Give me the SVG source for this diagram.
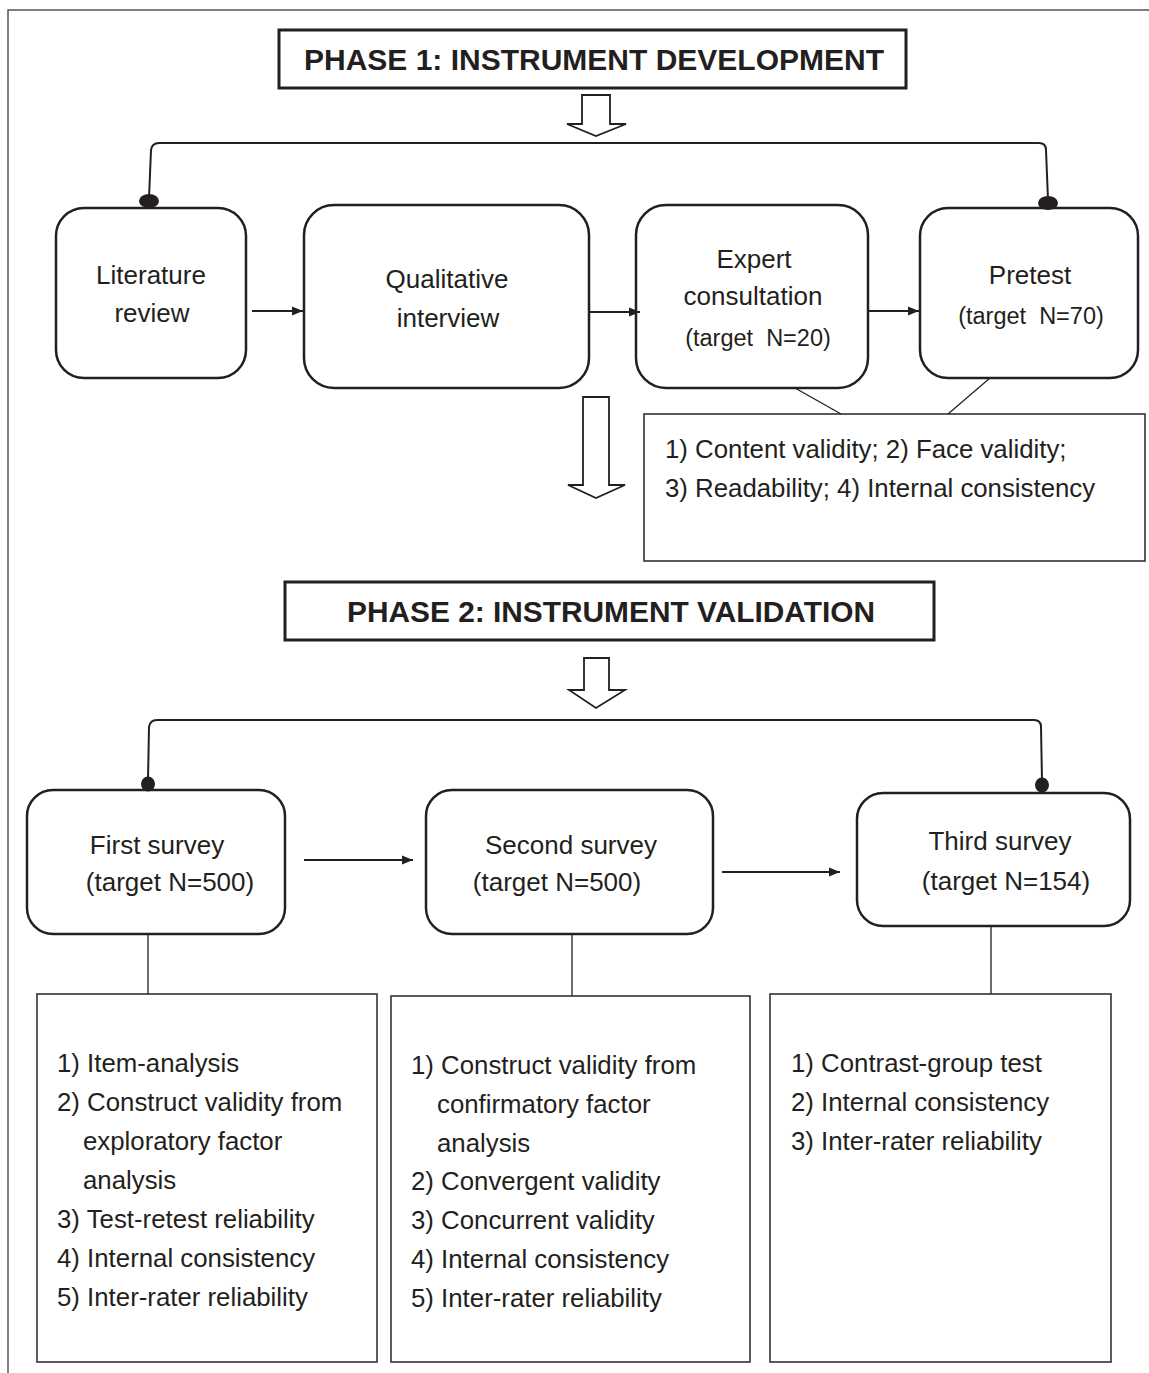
<svg xmlns="http://www.w3.org/2000/svg" width="1149" height="1373" viewBox="0 0 1149 1373">
<defs>
<style>
text{font-family:"Liberation Sans",Arial,sans-serif;fill:#231f20;}
.t{font-size:26px;text-anchor:middle;}
.n{font-size:23.5px;text-anchor:middle;white-space:pre;}
.l{font-size:25.8px;}
.h{font-size:29px;font-weight:bold;text-anchor:middle;}
.rb{fill:#fff;stroke:#231f20;stroke-width:2.5;}
.hb{fill:#fff;stroke:#231f20;stroke-width:3;}
.sb{fill:#fff;stroke:#333;stroke-width:1.6;}
.ln{fill:none;stroke:#231f20;stroke-width:2;}
.thin{fill:none;stroke:#231f20;stroke-width:1.3;}
.ha{fill:#fff;stroke:#231f20;stroke-width:1.8;}
.dot{fill:#231f20;}
</style>
<marker id="ah" viewBox="0 0 10 10" refX="10" refY="5" markerWidth="5.5" markerHeight="5.5" orient="auto" markerUnits="strokeWidth">
<path d="M0,1 L10,5 L0,9 z" fill="#231f20"/>
</marker>
</defs>
<rect width="1149" height="1373" fill="#fff"/>
<g id="frame">
<path d="M8,1373 L8,10 L1149,10" fill="none" stroke="#555" stroke-width="1.5"/>
</g>

<g id="phase1">
<rect class="hb" x="279" y="30" width="627" height="58"/>
<text class="h" x="594" y="70" textLength="580" lengthAdjust="spacingAndGlyphs">PHASE 1: INSTRUMENT DEVELOPMENT</text>
</g>
<g id="lit">
<rect class="rb" x="56" y="208" width="190" height="170" rx="28"/>
<text class="t" x="151" y="284">Literature</text>
<text class="t" x="152" y="322">review</text>
</g>
<g id="qual">
<rect class="rb" x="304" y="205" width="285" height="183" rx="30"/>
<text class="t" x="447" y="288">Qualitative</text>
<text class="t" x="448" y="327">interview</text>
</g>
<g id="expert">
<rect class="rb" x="636" y="205" width="232" height="183" rx="30"/>
<text class="t" x="754" y="268">Expert</text>
<text class="t" x="753" y="305">consultation</text>
<text class="n" x="758" y="346">(target  N=20)</text>
</g>
<g id="pretest">
<rect class="rb" x="920" y="208" width="218" height="170" rx="28"/>
<text class="t" x="1030" y="284">Pretest</text>
<text class="n" x="1031" y="324">(target  N=70)</text>
</g>
<g id="p1note">
<rect class="sb" x="644" y="414" width="501" height="147"/>
<text class="l" x="665" y="458">1) Content validity; 2) Face validity;</text>
<text class="l" x="665" y="497">3) Readability; 4) Internal consistency</text>
</g>

<g id="phase2">
<rect class="hb" x="285" y="582" width="649" height="58"/>
<text class="h" x="611" y="622" textLength="528" lengthAdjust="spacingAndGlyphs">PHASE 2: INSTRUMENT VALIDATION</text>
</g>
<g id="first">
<rect class="rb" x="27" y="790" width="258" height="144" rx="26"/>
<text class="t" x="157" y="854">First survey</text>
<text class="t" x="170" y="891">(target N=500)</text>
</g>
<g id="second">
<rect class="rb" x="426" y="790" width="287" height="144" rx="26"/>
<text class="t" x="571" y="854">Second survey</text>
<text class="t" x="557" y="891">(target N=500)</text>
</g>
<g id="third">
<rect class="rb" x="857" y="793" width="273" height="133" rx="26"/>
<text class="t" x="1000" y="850">Third survey</text>
<text class="t" x="1006" y="890">(target N=154)</text>
</g>
<g id="first-list">
<rect class="sb" x="37" y="994" width="340" height="368"/>
<text class="l" x="57" y="1072">1) Item-analysis</text>
<text class="l" x="57" y="1111">2) Construct validity from</text>
<text class="l" x="83" y="1150">exploratory factor</text>
<text class="l" x="83" y="1189">analysis</text>
<text class="l" x="57" y="1228">3) Test-retest reliability</text>
<text class="l" x="57" y="1267">4) Internal consistency</text>
<text class="l" x="57" y="1306">5) Inter-rater reliability</text>
</g>
<g id="second-list">
<rect class="sb" x="391" y="996" width="359" height="366"/>
<text class="l" x="411" y="1074">1) Construct validity from</text>
<text class="l" x="437" y="1113">confirmatory factor</text>
<text class="l" x="437" y="1152">analysis</text>
<text class="l" x="411" y="1190">2) Convergent validity</text>
<text class="l" x="411" y="1229">3) Concurrent validity</text>
<text class="l" x="411" y="1268">4) Internal consistency</text>
<text class="l" x="411" y="1307">5) Inter-rater reliability</text>
</g>
<g id="third-list">
<rect class="sb" x="770" y="994" width="341" height="368"/>
<text class="l" x="791" y="1072">1) Contrast-group test</text>
<text class="l" x="791" y="1111">2) Internal consistency</text>
<text class="l" x="791" y="1150">3) Inter-rater reliability</text>
</g>

<g id="connectors">
<polygon class="ha" points="582,95 610,95 610,124 626,124 596,136 567,124 582,124"/>
<polygon class="ha" points="583,397 609,397 609,485 625,485 596,498 568,485 583,485"/>
<polygon class="ha" points="584,658 609,658 609,690 625,690 596,708 569,690 584,690"/>
<path class="ln" d="M149,198 L151,150 Q152,143 159,143 L1039,143 Q1046,143 1046,150 L1048,200"/>
<ellipse class="dot" cx="149" cy="201" rx="10" ry="7"/>
<ellipse class="dot" cx="1048" cy="203" rx="10" ry="7"/>
<path class="ln" d="M148,780 L149,727 Q150,720 157,720 L1034,720 Q1041,720 1041,727 L1042,780"/>
<ellipse class="dot" cx="148" cy="784" rx="7" ry="7.5"/>
<ellipse class="dot" cx="1042" cy="785" rx="7" ry="7.5"/>
<line class="ln" x1="252" y1="311" x2="303" y2="311" marker-end="url(#ah)"/>
<line class="ln" x1="589" y1="312" x2="640" y2="312" marker-end="url(#ah)"/>
<line class="ln" x1="868" y1="311" x2="919" y2="311" marker-end="url(#ah)"/>
<line class="ln" x1="304" y1="860" x2="413" y2="860" marker-end="url(#ah)"/>
<line class="ln" x1="722" y1="872" x2="840" y2="872" marker-end="url(#ah)"/>
<line class="thin" x1="795" y1="388" x2="841" y2="414"/>
<line class="thin" x1="990" y1="378" x2="948" y2="414"/>
<line class="thin" x1="148" y1="934" x2="148" y2="994"/>
<line class="thin" x1="572" y1="934" x2="572" y2="996"/>
<line class="thin" x1="991" y1="926" x2="991" y2="994"/>
</g>
</svg>
